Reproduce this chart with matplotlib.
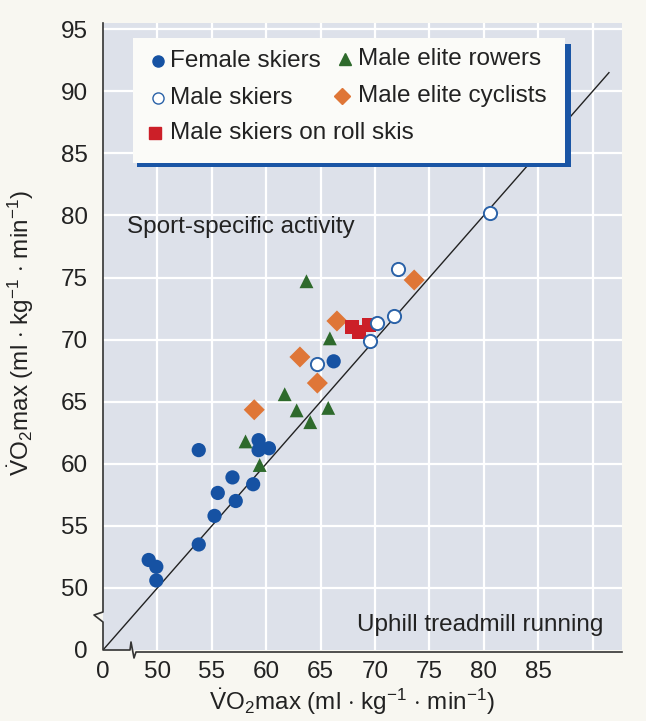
import matplotlib.pyplot as plt
from matplotlib.patches import Rectangle
from matplotlib.lines import Line2D

plt.rcParams['font.family'] = ['Liberation Sans', 'DejaVu Sans']
plt.rcParams['mathtext.fontset'] = 'custom'
plt.rcParams['mathtext.rm'] = 'Liberation Sans'
plt.rcParams['mathtext.it'] = 'Liberation Sans:italic'

### data (x = uphill treadmill, y = sport-specific)
female_x = [49.2, 49.9, 49.9, 53.8, 55.25, 55.55, 57.2, 56.9, 58.8, 53.8, 59.3, 59.3, 60.25, 66.2]
female_y = [52.25, 51.7, 50.6, 53.5, 55.8, 57.65, 57.0, 58.9, 58.35, 61.1, 61.9, 61.1, 61.25, 68.25]

rowers_x = [58.1, 59.4, 61.7, 62.8, 64.05, 65.7, 63.7, 65.85]
rowers_y = [61.8, 59.9, 65.6, 64.3, 63.35, 64.5, 74.7, 70.1]

cyclists_x = [58.9, 64.7, 63.1, 66.5, 73.6]
cyclists_y = [64.35, 66.5, 68.6, 71.5, 74.8]

male_x = [64.7, 70.2, 71.7, 69.5, 72.1, 80.6]
male_y = [68.0, 71.3, 71.9, 69.9, 75.7, 80.2]

roll_x = [67.9, 68.5, 69.45]
roll_y = [71.0, 70.6, 71.2]

x_ticks = [45, 50, 55, 60, 65, 70, 75, 80, 85]
x_labels = ['0', '50', '55', '60', '65', '70', '75', '80', '85']
y_ticks = [45, 50, 55, 60, 65, 70, 75, 80, 85, 90, 95]
y_labels = ['0', '50', '55', '60', '65', '70', '75', '80', '85', '90', '95']

c_blue = '#1652a3'
c_green = '#2e6a2c'
c_orange = '#df7637'
c_red = '#cc1f28'
bg = '#dde1ea'
paper = '#f8f7f1'
ink = '#222222'

W, H = 646, 721
fig = plt.figure(figsize=(6.46, 7.21), dpi=100, facecolor=paper)
ax = fig.add_axes([103 / W, 1 - 650 / H, 519 / W, 627 / H])
ax.set_facecolor(bg)
ax.set_xlim(45, 92.7)
ax.set_ylim(45, 95.5)

### white grid
for g in range(50, 95, 5):
    ax.axvline(g, color='white', lw=1.6, zorder=1)
for g in range(50, 100, 5):
    ax.axhline(g, color='white', lw=1.6, zorder=1)

### identity line
ax.plot([45, 91.5], [45, 91.5], color=ink, lw=1.0, zorder=2)

ax.scatter(female_x, female_y, s=105, color=c_blue, edgecolor='none', zorder=3)
ax.scatter(rowers_x, rowers_y, s=100, marker='^', color=c_green, edgecolor='none', zorder=3)
ax.scatter(cyclists_x, cyclists_y, s=115, marker='D', color=c_orange, edgecolor='none', zorder=3)
ax.scatter(roll_x, roll_y, s=105, marker='s', color=c_red, edgecolor='none', zorder=3)
ax.scatter(male_x, male_y, s=90, facecolor='white', edgecolor='#2a62a8', linewidth=1.4, zorder=4)

ax.set_xticks(x_ticks)
ax.set_xticklabels(x_labels, fontsize=17.5)
ax.set_yticks(y_ticks)
ax.set_yticklabels(y_labels, fontsize=17.5)
ax.tick_params(length=0, colors=ink)
ax.tick_params(axis='x', pad=8)
ax.tick_params(axis='y', pad=11)
for s in ax.spines.values():
    s.set_visible(False)

ax.text(47.2, 79.1, 'Sport-specific activity', fontsize=17.5, color=ink,
        va='center', ha='left', zorder=5)
ax.text(91.0, 47.0, 'Uphill treadmill running', fontsize=17.5, color=ink,
        va='center', ha='right', zorder=5)

### axes with breaks (pixel coords of the figure)
def px(x, y):
    return x / W, 1 - y / H

def fline(pts, **kw):
    xs = [px(a, b)[0] for a, b in pts]
    ys = [px(a, b)[1] for a, b in pts]
    fig.add_artist(Line2D(xs, ys, transform=fig.transFigure, **kw))

axis_kw = dict(color='#333333', lw=1.2)
fline([(103, 23), (103, 612), (94, 615), (103, 622), (103, 650),
       (130, 650), (131, 642), (134, 658), (136, 652), (622, 652)], **axis_kw)

### legend box
fig.add_artist(Rectangle(px(137, 167), 434 / W, 123 / H, transform=fig.transFigure,
                         facecolor='#1a55a5', edgecolor='none'))
fig.add_artist(Rectangle(px(133, 163), 432 / W, 125 / H, transform=fig.transFigure,
                         facecolor='#fbfbf8', edgecolor='none'))

legend_items = [
    ('o', c_blue, c_blue, 158, 61, 170, 'Female skiers'),
    ('^', c_green, c_green, 345, 59, 358, 'Male elite rowers'),
    ('o', 'white', '#2a62a8', 158, 98, 170, 'Male skiers'),
    ('D', c_orange, c_orange, 342, 96, 358, 'Male elite cyclists'),
    ('s', c_red, c_red, 155, 133, 170, 'Male skiers on roll skis'),
]
for mk, fc, ec, mx, my, tx, lab in legend_items:
    fx, fy = px(mx, my)
    fig.add_artist(Line2D([fx], [fy], marker=mk, markersize=8, markerfacecolor=fc,
                          markeredgecolor=ec, markeredgewidth=1.0, linestyle='none',
                          transform=fig.transFigure))
    tx_, ty_ = px(tx, my)
    fig.text(tx_, ty_, lab, fontsize=17.5, color=ink, va='center', ha='left')

ylab = r'$\dot{\mathrm{V}}$O$_2$max (ml $\cdot$ kg$^{-1}$ $\cdot$ min$^{-1}$)'
fig.text(*px(21, 333), ylab, rotation=90, fontsize=17.5, color=ink,
         va='center', ha='center')
fig.text(*px(352, 702), ylab, fontsize=17.5, color=ink, va='center', ha='center')

plt.savefig('out.png', dpi=100, facecolor=paper)
